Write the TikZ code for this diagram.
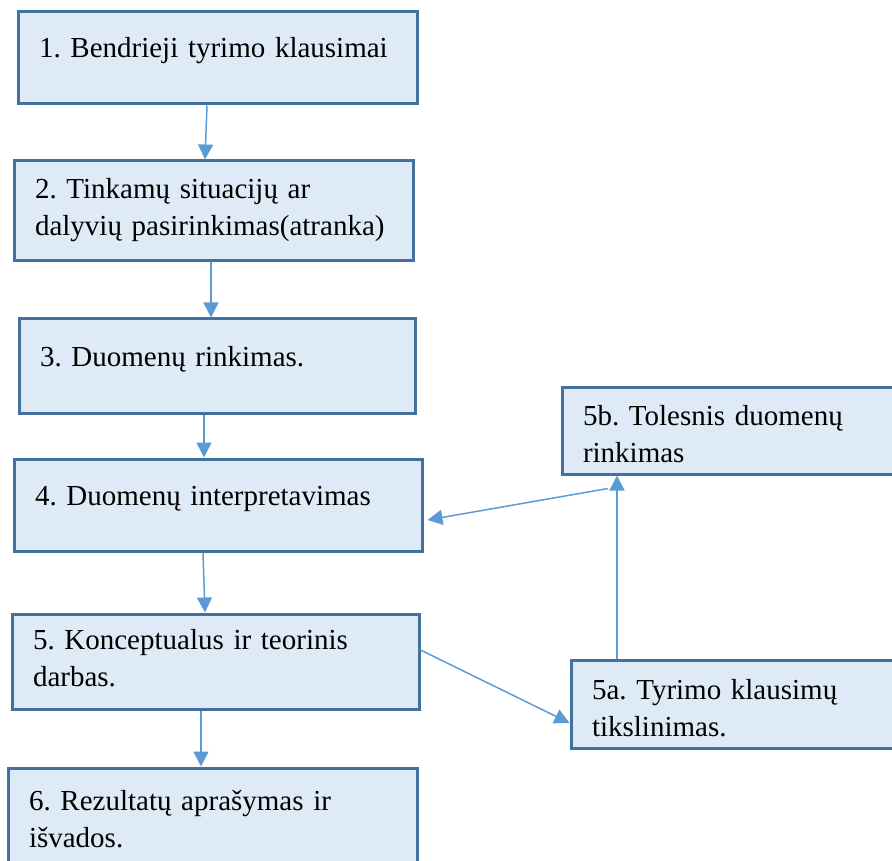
\documentclass[tikz,border=0pt]{standalone}
\usepackage{fontspec}
\setmainfont{Liberation Serif}
\usetikzlibrary{arrows.meta}
\definecolor{boxfill}{HTML}{DEEBF7}
\definecolor{boxline}{HTML}{41719C}
\definecolor{flowblue}{HTML}{5B9BD5}
\frenchspacing

\begin{document}
\begin{tikzpicture}[x=0.5pt, y=-0.5pt,
	stepbox/.style={rectangle, draw=boxline, line width=1.5pt, fill=boxfill, align=left,
		inner xsep=10.5pt, inner ysep=0pt, font=\fontsize{14.5pt}{18.5pt}\selectfont},
	oneline/.style={text height=10pt, text depth=10pt},
	twoline/.style={text height=10pt, text depth=22pt},
	lowtext/.style={text height=17pt, text depth=22pt},
	flow/.style={draw=flowblue, fill=flowblue, line width=0.75pt, -{Triangle[length=7.5pt,width=7.5pt]}}]
		\useasboundingbox (0,0) rectangle (892,860);
		\clip (0,0) rectangle (892,860);
		\node[stepbox, oneline, text width=178.5pt, minimum height=46pt] (s_1) at (217.5,58)
		{1. Bendrieji tyrimo klausimai};
		\node[stepbox, twoline, text width=178.5pt, minimum height=50pt] (s_2) at (213.5,211)
		{2. Tinkamų situacijų ar\\ dalyvių pasirinkimas(atranka)};
		\node[stepbox, oneline, text width=177pt, minimum height=47pt] (s_3) at (217,366)
		{3. Duomenų rinkimas.};
		\node[stepbox, oneline, text width=183pt, minimum height=46pt] (s_4) at (218,505)
		{4. Duomenų interpretavimas};
		\node[stepbox, twoline, text width=182.5pt, minimum height=47.5pt] (s_5) at (215.5,661.5)
		{5. Konceptualus ir teorinis\\ darbas.};
		\node[stepbox, lowtext, text width=183.5pt, minimum height=47pt] (s_6) at (212.5,815)
		{6. Rezultatų aprašymas ir\\ išvados.};
		\node[stepbox, lowtext, text width=148pt, minimum height=43.5pt] (s_5b) at (731,430.5)
		{5b. Tolesnis duomenų\\ rinkimas};
		\node[stepbox, lowtext, text width=143.5pt, minimum height=44pt] (s_5a) at (735.5,704)
		{5a. Tyrimo klausimų\\ tikslinimas.};
		
		\path[every edge/.style={flow}]
		([xshift=-5.25pt]s_1.south) edge ([xshift=-4.25pt]s_2.north)
		([xshift=-1.25pt]s_2.south) edge ([xshift=-3pt]s_3.north)
		([xshift=-6.5pt]s_3.south) edge ([xshift=-7pt]s_4.north)
		([xshift=-7.5pt]s_4.south) edge ([xshift=-5.25pt]s_5.north)
		([xshift=-7.25pt]s_5.south) edge ([xshift=-5.75pt]s_6.north)
		([yshift=5.75pt]s_5.east) edge ([yshift=-9.5pt]s_5a.west)
		([xshift=-59.25pt]s_5a.north) edge ([xshift=-57pt]s_5b.south)
		([xshift=-61.5pt,yshift=-6.5pt]s_5b.south) edge ([xshift=2pt,yshift=-7.5pt]s_4.east);
		
\end{tikzpicture}
\end{document}
